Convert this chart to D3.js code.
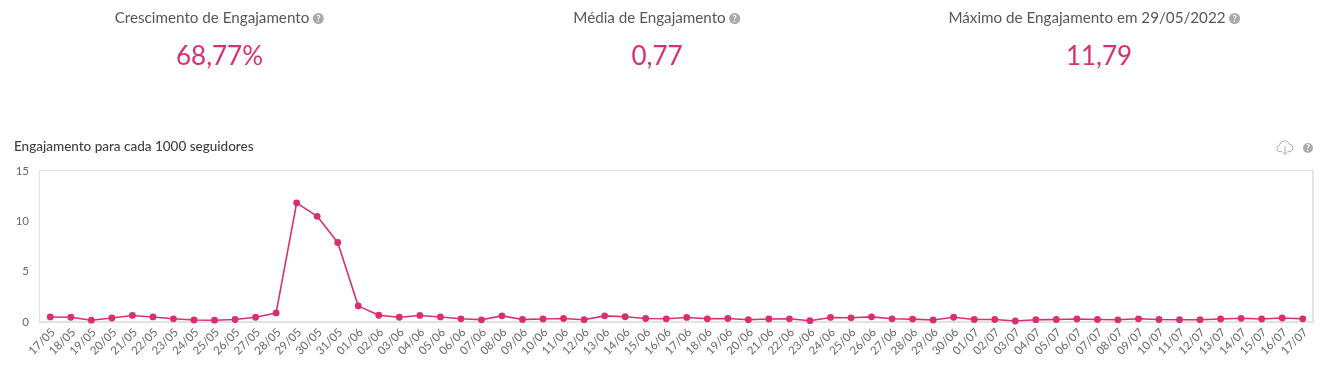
<!DOCTYPE html>
<html><head><meta charset="utf-8">
<script src="https://cdn.jsdelivr.net/npm/d3@7"></script>
<style>html,body{margin:0;padding:0;background:#fff;overflow:hidden}text{font-family:Lato,sans-serif;font-variant-numeric:tabular-nums;font-feature-settings:"tnum" 1}</style>
</head><body><svg id="c" width="1323" height="371"></svg>
<script>
const categories = ["17/05","18/05","19/05","20/05","21/05","22/05","23/05","24/05","25/05","26/05","27/05","28/05","29/05","30/05","31/05",
"01/06","02/06","03/06","04/06","05/06","06/06","07/06","08/06","09/06","10/06","11/06","12/06","13/06","14/06","15/06","16/06","17/06","18/06","19/06","20/06","21/06","22/06","23/06","24/06","25/06","26/06","27/06","28/06","29/06","30/06",
"01/07","02/07","03/07","04/07","05/07","06/07","07/07","08/07","09/07","10/07","11/07","12/07","13/07","14/07","15/07","16/07","17/07"];
const engagement = [0.45,0.42,0.13,0.35,0.6,0.45,0.27,0.15,0.13,0.2,0.42,0.85,11.79,10.45,7.85,
1.55,0.62,0.42,0.6,0.45,0.27,0.17,0.56,0.2,0.25,0.3,0.18,0.56,0.47,0.3,0.27,0.4,0.27,0.3,0.18,0.25,0.27,0.08,0.4,0.37,0.46,0.27,0.24,0.15,0.42,
0.2,0.2,0.05,0.18,0.2,0.25,0.2,0.17,0.27,0.2,0.18,0.18,0.25,0.32,0.25,0.35,0.27];
const yTicks = [0,5,10,15];
const stats = [
 {label:"Crescimento de Engajamento", value:"68,77%", cx:219.5, lx:212},
 {label:"Média de Engajamento", value:"0,77", cx:657, lx:649.5},
 {label:"Máximo de Engajamento em 29/05/2022", value:"11,79", cx:1099, lx:1087}
];
const chartTitle = "Engajamento para cada 1000 seguidores";
const pink = "#d92e70", grayText = "#555";

const svg = d3.select("#c");
const root = svg.append("g").attr("opacity",0.995);
const x = d3.scalePoint().domain(categories).range([40,1313]).padding(0.5);
const y = d3.scaleLinear().domain([0,15]).range([321.5,170.5]);

function help(g,cx,cy,r){
  g.append("circle").attr("cx",cx).attr("cy",cy).attr("r",r).attr("fill","#a9a9a9");
  g.append("text").attr("x",cx).attr("y",cy+r*0.62).attr("text-anchor","middle")
   .attr("font-size",r*1.7).attr("font-weight",700).attr("fill","#fff").text("?");
}
stats.forEach(s=>{
  const g = root.append("g");
  const t = g.append("text").attr("x",s.lx).attr("y",22.5).attr("text-anchor","middle")
    .attr("font-size",15.2).attr("fill",grayText).text(s.label);
  const w = t.node().getComputedTextLength();
  help(g,s.lx+w/2+9,18.5,5.5);
  g.append("text").attr("x",s.cx).attr("y",65).attr("text-anchor","middle")
    .attr("font-size",26).attr("fill",pink).text(s.value);
});
root.append("text").attr("x",14).attr("y",150.5).attr("font-size",13.5).attr("font-weight",500)
  .attr("fill","#3d3d3d").style("-webkit-text-stroke","0.35px #3d3d3d").text(chartTitle);

// cloud download icon
root.append("path").attr("fill","none").attr("stroke","#a8a8a8").attr("stroke-width",1.15)
  .attr("transform","translate(1285,147) scale(0.85) translate(-1285,-147)")
  .attr("d","M1281.5 152.5h-2.5a3.8 3.8 0 0 1-.5-7.5a6 6 0 0 1 11.5-1.5a4.6 4.6 0 0 1 1 9h-3M1285 146v9.5m-2.2-2.2l2.2 2.2l2.2-2.2");
help(root.append("g"),1308,148,5);

// plot frame
root.append("rect").attr("x",39.5).attr("y",170.5).attr("width",1273.5).attr("height",151)
  .attr("fill","none").attr("stroke","#e2e2e2").attr("stroke-width",1);
root.append("line").attr("x1",1313).attr("x2",1313).attr("y1",170).attr("y2",322).attr("stroke","#d5d5d5");
root.append("line").attr("x1",39).attr("x2",1314).attr("y1",322).attr("y2",322).attr("stroke","#e2e2e2").attr("stroke-width",2);

// axes
const yAxis = root.append("g").attr("transform","translate(40,0)")
  .call(d3.axisLeft(y).tickValues(yTicks).tickSize(0).tickPadding(11));
yAxis.select(".domain").remove();
yAxis.selectAll("text").attr("font-size",11.5).attr("fill","#666").attr("dy","0.32em")
  .style("font-family","Lato,sans-serif");
const xAxis = root.append("g").attr("transform","translate(0,322)")
  .call(d3.axisBottom(x).tickSize(0).tickPadding(0));
xAxis.select(".domain").remove();
xAxis.selectAll("text").attr("font-size",11.5).attr("fill","#666")
  .style("font-family","Lato,sans-serif")
  .attr("text-anchor","end").attr("dy",0).attr("y",0)
  .attr("transform","translate(5,11) rotate(-45)");

// series
root.append("path").datum(engagement).attr("fill","none").attr("stroke",pink).attr("stroke-width",1.6)
  .attr("stroke-linejoin","round")
  .attr("d",d3.line().x((d,i)=>x(categories[i])).y(d=>y(d)));
root.append("g").selectAll("circle").data(engagement).join("circle")
  .attr("cx",(d,i)=>x(categories[i])).attr("cy",d=>y(d)).attr("r",3.4).attr("fill",pink);
</script></body></html>
